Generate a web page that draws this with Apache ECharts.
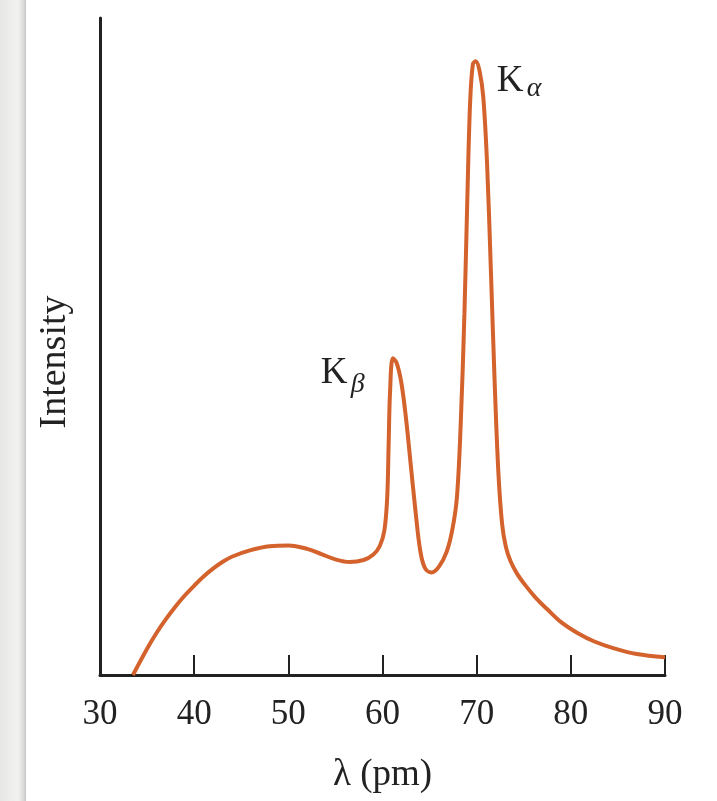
<!DOCTYPE html>
<html>
<head>
<meta charset="utf-8">
<script src="https://cdn.jsdelivr.net/npm/echarts@6/dist/echarts.min.js"></script>
<style>
  html, body { margin: 0; padding: 0; background: #fff; }
  #chart { width: 717px; height: 801px; }
</style>
</head>
<body>
<div id="chart"></div>
<script>
// wavelength (pm) and relative intensity
const wavelength = [33.5, 35.0, 36.0, 37.0, 38.0, 39.0, 40.0, 41.0, 42.0, 43.0, 44.0, 46.0, 48.0, 50.0, 52.0, 53.5, 55.0, 56.5, 58.0, 59.0, 59.7, 60.2, 60.5, 60.65, 60.8, 61.1, 61.5, 62.0, 62.5, 63.0, 63.5, 64.0, 64.5, 65.2, 66.0, 66.8, 67.4, 67.9, 68.3, 68.7, 69.0, 69.3, 69.6, 69.9, 70.3, 70.7, 71.1, 71.5, 71.9, 72.3, 72.7, 73.1, 73.6, 74.3, 75.2, 76.3, 77.5, 79.0, 80.7, 82.5, 84.5, 87.0, 90.0];
const intensity = [0, 4.0, 6.4, 8.5, 10.4, 12.1, 13.6, 15.0, 16.2, 17.2, 18.0, 19.0, 19.6, 19.7, 19.2, 18.4, 17.6, 17.2, 17.5, 18.3, 19.6, 22.0, 27.0, 35.0, 43.0, 48.2, 47.5, 44.5, 39.0, 32.0, 25.0, 19.0, 16.3, 15.6, 16.5, 18.7, 22.0, 27.0, 38.0, 55.0, 72.0, 87.0, 93.0, 93.4, 92.0, 88.0, 78.0, 62.0, 45.0, 31.0, 23.0, 19.5, 17.3, 15.4, 13.6, 11.7, 10.0, 8.0, 6.4, 5.1, 4.1, 3.2, 2.7];
const xTicks = [30, 40, 50, 60, 70, 80, 90];
const peakKa = [69.8, 93.5];
const peakKb = [61.1, 48.4];

const serif = '"Liberation Serif", "DejaVu Serif", serif';
const ink = '#222';
const curveColor = '#d4622c';

const chart = echarts.init(document.getElementById('chart'));

const points = wavelength.map((w, i) => [w, intensity[i]]);

chart.setOption({
  backgroundColor: '#fff',
  animation: false,
  grid: { left: 100, right: 52, top: 18, bottom: 126 },
  xAxis: {
    type: 'value',
    min: xTicks[0],
    max: xTicks[xTicks.length - 1],
    interval: 10,
    name: 'λ (pm)',
    nameLocation: 'middle',
    nameGap: 82,
    nameTextStyle: { fontFamily: serif, fontSize: 37, color: ink },
    axisLine: { lineStyle: { color: ink, width: 3 } },
    axisTick: { inside: true, length: 20, lineStyle: { color: ink, width: 2 } },
    axisLabel: { fontFamily: serif, fontSize: 35, color: ink, margin: 22 },
    splitLine: { show: false }
  },
  yAxis: {
    type: 'value',
    min: 0,
    max: 100,
    axisLine: { show: true, lineStyle: { color: ink, width: 3 } },
    axisTick: { show: false },
    axisLabel: { show: false },
    splitLine: { show: false }
  },
  series: [{
    type: 'line',
    data: points,
    smooth: 0.35,
    showSymbol: false,
    lineStyle: { color: curveColor, width: 4 }
  }]
});

// annotations placed from the peak data through the chart's own scales
const pa = chart.convertToPixel({ gridIndex: 0 }, peakKa);
const pb = chart.convertToPixel({ gridIndex: 0 }, peakKb);

chart.setOption({
  graphic: [
    {
      type: 'rect',
      shape: { x: 0, y: 0, width: 26, height: 801 },
      style: {
        fill: new echarts.graphic.LinearGradient(0, 0, 1, 0, [
          { offset: 0, color: '#e6e6e4' },
          { offset: 0.7, color: '#f2f2f0' },
          { offset: 0.92, color: '#d8d8d6' },
          { offset: 1, color: '#c4c4c2' }
        ])
      },
      silent: true
    },
    {
      type: 'text',
      x: 55, y: 362,
      rotation: Math.PI / 2,
      style: { text: 'Intensity', font: '38px ' + serif, fill: ink, align: 'center', verticalAlign: 'middle' }
    },
    {
      type: 'text',
      x: pa[0] + 22, y: pa[1] + 2,
      style: { text: 'K', font: '37px ' + serif, fill: ink, align: 'left', verticalAlign: 'top' }
    },
    {
      type: 'text',
      x: pa[0] + 52, y: pa[1] + 14,
      style: { text: 'α', font: 'italic 28px ' + serif, fill: ink, align: 'left', verticalAlign: 'top' }
    },
    {
      type: 'text',
      x: pb[0] - 72, y: pb[1] - 2,
      style: { text: 'K', font: '37px ' + serif, fill: ink, align: 'left', verticalAlign: 'top' }
    },
    {
      type: 'text',
      x: pb[0] - 42, y: pb[1] + 14,
      style: { text: 'β', font: 'italic 28px ' + serif, fill: ink, align: 'left', verticalAlign: 'top' }
    }
  ]
});
</script>
</body>
</html>
